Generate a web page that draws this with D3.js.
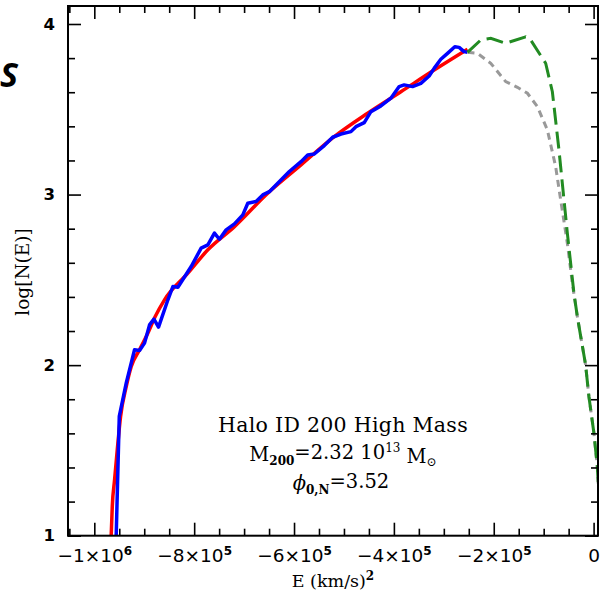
<!DOCTYPE html>
<html>
<head>
<meta charset="utf-8">
<script src="https://cdn.jsdelivr.net/npm/d3@7"></script>
<style>
  body { margin: 0; background: #fff; }
  text { fill: #000; }
</style>
</head>
<body>
<div id="chart"></div>
<script>
// values: E in (km/s)^2, log N(E)
const fitE = [-968000, -966000, -964000, -959400, -954000, -947400, -936000, -926000, -909400, -892600,
    -878000, -859400, -812600, -772600, -719400, -652600, -586000, -519400, -452600, -386000, -319400, -252600];
const fitLogN = [0.9, 1.016, 1.172, 1.328, 1.504, 1.699, 1.875, 1.992, 2.09, 2.188,
    2.285, 2.383, 2.539, 2.676, 2.812, 3.008, 3.174, 3.34, 3.477, 3.603, 3.73, 3.852];

const simE = [-957000, -956000, -952600, -950000, -936000, -919400, -909400, -899400, -889400, -880600,
    -871400, -852600, -842600, -832600, -806000, -786000, -772600, -759400, -749400, -736000,
    -719400, -702600, -692600, -676000, -662600, -649400, -609400, -586000, -572600, -559400,
    -539400, -522600, -506000, -486000, -476000, -459400, -446000, -426000, -406000, -389400,
    -379400, -362600, -346000, -329400, -319400, -306000, -292600, -278000, -269400, -259400, -252600];
const simLogN = [0.95, 1.018, 1.406, 1.699, 1.896, 2.09, 2.086, 2.129, 2.236, 2.27,
    2.223, 2.383, 2.461, 2.457, 2.578, 2.686, 2.705, 2.774, 2.738, 2.793,
    2.828, 2.881, 2.949, 2.959, 2.998, 3.017, 3.135, 3.193, 3.232, 3.238,
    3.287, 3.336, 3.355, 3.369, 3.398, 3.422, 3.486, 3.52, 3.565, 3.633,
    3.643, 3.633, 3.652, 3.695, 3.74, 3.793, 3.828, 3.867, 3.863, 3.838, 3.834];

const tailE = [-252600, -226000, -206000, -176000, -136000, -126000, -96000, -82600, -69400, -52600,
    -39400, -32600, -16000, -9400, 600, 7400, 9500];
const tailLogN = [3.834, 3.906, 3.916, 3.887, 3.925, 3.906, 3.77, 3.603, 3.262, 2.774,
    2.422, 2.285, 2.0, 1.816, 1.602, 1.406, 1.3];

const greyE = [-252600, -232600, -206000, -176000, -152600, -132600, -112600, -92600, -76000, -66000,
    -52600, -42600, -32600, -16000, -9400, 600, 7400, 9500];
const greyLogN = [3.834, 3.828, 3.77, 3.662, 3.629, 3.594, 3.516, 3.379, 3.164, 2.969,
    2.715, 2.48, 2.285, 2.0, 1.816, 1.602, 1.406, 1.3];

const xMajor = [-1e6, -8e5, -6e5, -4e5, -2e5, 0];
const xLabels = [["−1×10", "6"], ["−8×10", "5"], ["−6×10", "5"], ["−4×10", "5"], ["−2×10", "5"], ["0", ""]];
const yMajor = [1, 2, 3, 4];
const yLabels = ["1", "2", "3", "4"];

const width = 600, height = 597;
const mLeft = 68, mRight = 598, mTop = 6, mBottom = 535.7;

const svg = d3.select("#chart").append("svg")
    .attr("width", width)
    .attr("height", height);

const x = d3.scaleLinear().domain([-1.0527e6, 8800]).range([mLeft, mRight]);
const y = d3.scaleLinear().domain([1, 4.1055]).range([mBottom, mTop]);

const xMinor = d3.range(-1.05e6, 8000, 5e4).filter(v => !xMajor.some(m => Math.abs(m - v) < 1));
const yMinor = d3.range(1, 4.1, 0.2).filter(v => !yMajor.some(m => Math.abs(m - v) < 1e-6));

svg.append("clipPath").attr("id", "clip")
  .append("rect")
    .attr("x", mLeft).attr("y", mTop)
    .attr("width", mRight - mLeft).attr("height", mBottom - mTop);

const plot = svg.append("g").attr("clip-path", "url(#clip)");

const line = (xs, ys, curve) => d3.line()
    .x(d => x(xs[d]))
    .y(d => y(ys[d]))
    .curve(curve)(d3.range(xs.length));

plot.append("path")
    .attr("d", line(fitE, fitLogN, d3.curveMonotoneX))
    .attr("fill", "none").attr("stroke", "#ff0000").attr("stroke-width", 3.5);

plot.append("path")
    .attr("d", line(simE, simLogN, d3.curveLinear))
    .attr("fill", "none").attr("stroke", "#0000ff").attr("stroke-width", 3.5)
    .attr("stroke-linejoin", "round");

plot.append("path")
    .attr("d", line(greyE, greyLogN, d3.curveLinear))
    .attr("fill", "none").attr("stroke", "#999999").attr("stroke-width", 3)
    .attr("stroke-dasharray", "7,5");

plot.append("path")
    .attr("d", line(tailE, tailLogN, d3.curveLinear))
    .attr("fill", "none").attr("stroke", "#228b22").attr("stroke-width", 3)
    .attr("stroke-dasharray", "17,7");

// frame
svg.append("rect")
    .attr("x", mLeft).attr("y", mTop)
    .attr("width", mRight - mLeft).attr("height", mBottom - mTop)
    .attr("fill", "none").attr("stroke", "#000").attr("stroke-width", 2);

function styleAxis(g) {
    g.select(".domain").remove();
    g.selectAll("line").attr("stroke", "#000").attr("stroke-width", 1.6);
}

// minor ticks on all sides
svg.append("g").attr("transform", `translate(0,${mBottom})`)
    .call(d3.axisBottom(x).tickValues(xMinor).tickSize(-7).tickFormat("")).call(styleAxis);
svg.append("g").attr("transform", `translate(0,${mTop})`)
    .call(d3.axisTop(x).tickValues(xMinor).tickSize(-7).tickFormat("")).call(styleAxis);
svg.append("g").attr("transform", `translate(${mLeft},0)`)
    .call(d3.axisLeft(y).tickValues(yMinor).tickSize(-7).tickFormat("")).call(styleAxis);
svg.append("g").attr("transform", `translate(${mRight},0)`)
    .call(d3.axisRight(y).tickValues(yMinor).tickSize(-7).tickFormat("")).call(styleAxis);

// major ticks
const xAxis = svg.append("g").attr("transform", `translate(0,${mBottom})`)
    .call(d3.axisBottom(x).tickValues(xMajor).tickSize(-13).tickPadding(13)).call(styleAxis);
svg.append("g").attr("transform", `translate(0,${mTop})`)
    .call(d3.axisTop(x).tickValues(xMajor).tickSize(-13).tickFormat("")).call(styleAxis);
const yAxis = svg.append("g").attr("transform", `translate(${mLeft},0)`)
    .call(d3.axisLeft(y).tickValues(yMajor).tickSize(-13).tickPadding(13)).call(styleAxis);
svg.append("g").attr("transform", `translate(${mRight},0)`)
    .call(d3.axisRight(y).tickValues(yMajor).tickSize(-13).tickFormat("")).call(styleAxis);

xAxis.selectAll(".tick text")
    .attr("font-family", "DejaVu Sans")
    .attr("font-size", 18.5)
    .attr("fill", "#000")
    .each(function(d, i) {
        const t = d3.select(this).text(null);
        t.append("tspan").text(xLabels[i][0]);
        if (xLabels[i][1]) {
            t.append("tspan").attr("font-size", 12).attr("font-weight", "bold").attr("dy", "-0.55em").text(xLabels[i][1]);
        }
    });

yAxis.selectAll(".tick text")
    .attr("font-family", "DejaVu Sans")
    .attr("font-weight", "bold")
    .attr("font-size", 16.5)
    .attr("fill", "#000")
    .text((d, i) => yLabels[i]);

// axis titles
svg.append("text")
    .attr("x", 333).attr("y", 587)
    .attr("text-anchor", "middle")
    .attr("font-family", "DejaVu Serif").attr("font-size", 17.5)
    .call(t => {
        t.append("tspan").text("E (km/s)");
        t.append("tspan").attr("font-size", 12).attr("font-weight", "bold").attr("dy", "-0.6em").text("2");
    });

svg.append("text")
    .attr("transform", "translate(29,272) rotate(-90)")
    .attr("text-anchor", "middle")
    .attr("font-family", "DejaVu Serif").attr("font-size", 18.5)
    .text("log[N(E)]");

// cut-off panel letter at far left
svg.append("text")
    .attr("x", 18).attr("y", 87)
    .attr("text-anchor", "end")
    .attr("font-family", "Open Sans").attr("font-weight", "bold").attr("font-style", "italic")
    .attr("font-size", 34)
    .text("S");

// annotation
const note = svg.append("g")
    .attr("font-family", "DejaVu Serif").attr("font-size", 19.5)
    .attr("text-anchor", "middle");

note.append("text").attr("x", 343).attr("y", 432)
    .attr("font-size", 20.5)
    .attr("letter-spacing", 0.3)
    .text("Halo ID 200 High Mass");

note.append("text").attr("x", 343).attr("y", 461)
    .call(t => {
        t.append("tspan").text("M");
        t.append("tspan").attr("font-size", 12).attr("font-weight", "bold").attr("dy", "0.3em").text("200");
        t.append("tspan").attr("dy", "-0.3em").text("=2.32 10");
        t.append("tspan").attr("font-size", 12).attr("dy", "-0.55em").text("13");
        t.append("tspan").attr("dy", "0.55em").text(" M");
        t.append("tspan").attr("font-size", 12).attr("dy", "0.3em").text("⊙");
    });

note.append("text").attr("x", 341).attr("y", 490)
    .call(t => {
        t.append("tspan").attr("font-style", "italic").text("ϕ");
        t.append("tspan").attr("font-size", 12).attr("font-weight", "bold").attr("dy", "0.3em").text("0,N");
        t.append("tspan").attr("dy", "-0.3em").text("=3.52");
    });
</script>
</body>
</html>
